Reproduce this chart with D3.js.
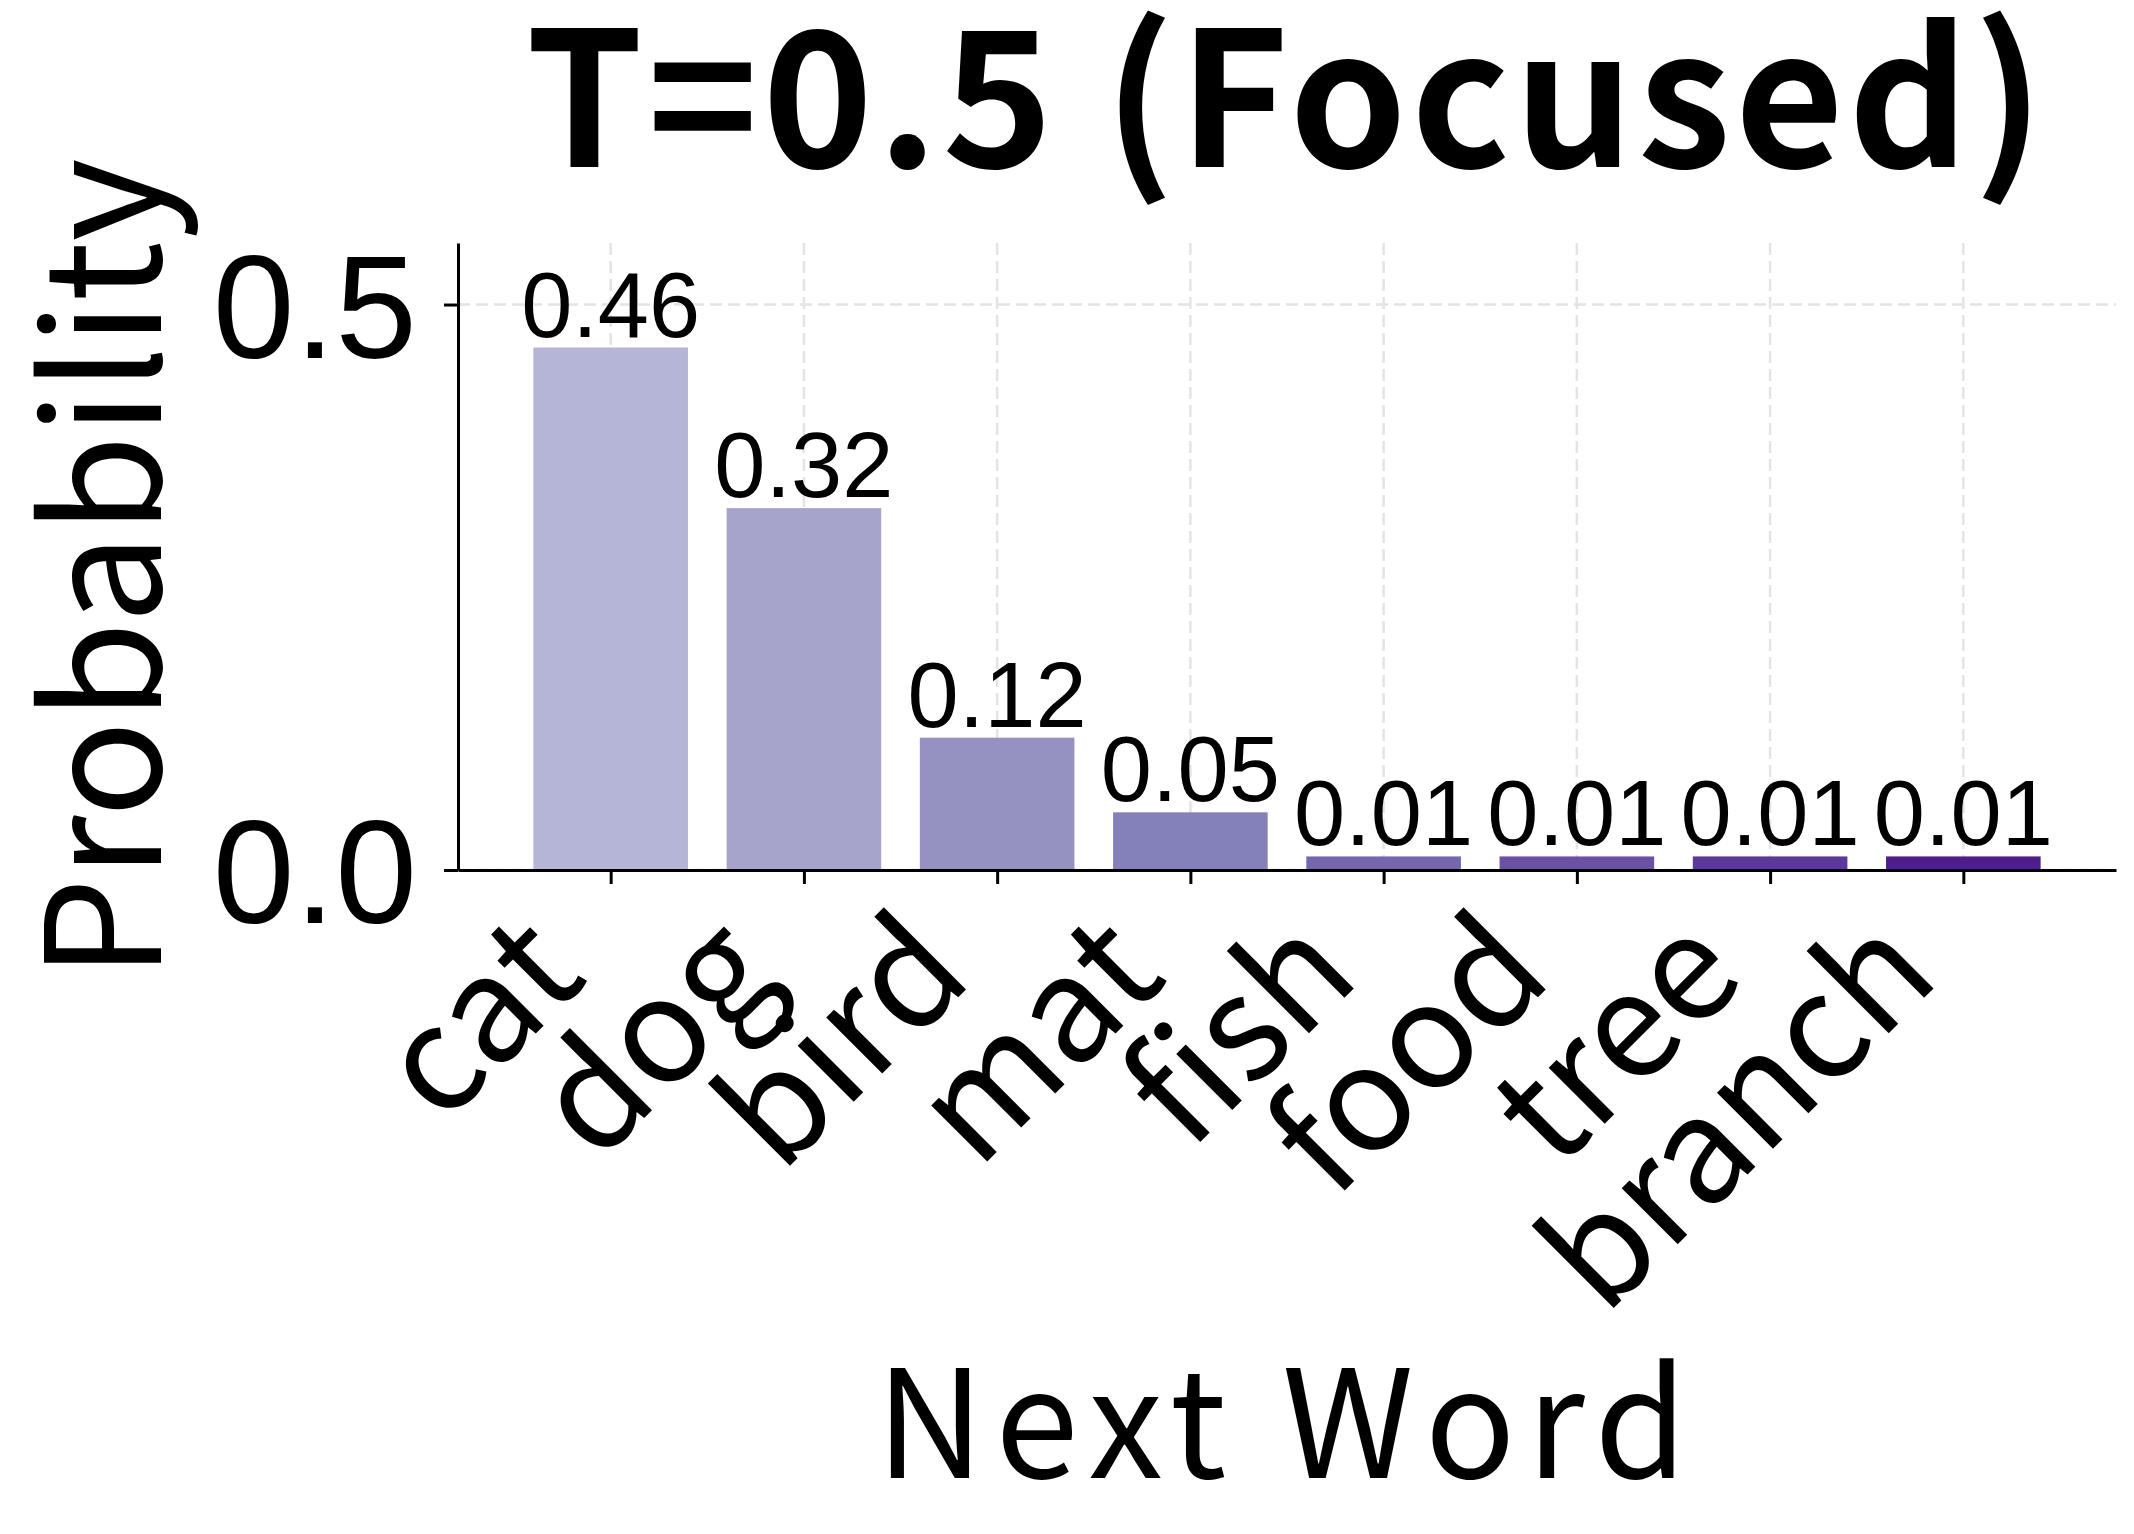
<!DOCTYPE html>
<html>
<head>
<meta charset="utf-8">
<script src="https://cdn.jsdelivr.net/npm/d3@7"></script>
<style>
  body { margin: 0; background: #fff; }
  svg { display: block; }
  text { font-family: "Noto Sans CJK JP", "Noto Sans", sans-serif; fill: #000; }
  .num { font-family: "Liberation Sans", Arial, sans-serif; }
</style>
</head>
<body>
<div id="chart"></div>
<script>
// data
var words = ['cat', 'dog', 'bird', 'mat', 'fish', 'food', 'tree', 'branch'];
var probs = [0.462, 0.320, 0.117, 0.051, 0.012, 0.012, 0.012, 0.012];
var barColors = ['#b5b5d7', '#a6a4cb', '#9592c2', '#8480b9', '#7566ae', '#6a51a3', '#5c3996', '#4e1f89'];
var yTicks = [0.0, 0.5];

var W = 2134, H = 1534;
var margin = {top: 243, right: 18, bottom: 664, left: 458};
var width = W - margin.left - margin.right,
    height = H - margin.top - margin.bottom;

var svg = d3.select('#chart').append('svg')
  .attr('width', W)
  .attr('height', H);

var g = svg.append('g')
  .attr('transform', 'translate(' + margin.left + ',' + margin.top + ')');

//x scale in bar units, same margins as the plot (-0.79 .. 7.79)
var x = d3.scaleLinear().domain([-0.79, words.length - 1 + 0.79]).range([0, width]);
var y = d3.scaleLinear().domain([0, d3.max(probs) * 1.2]).range([height, 0]);
var bw = x(0.4) - x(-0.4);

//grid lines
var grid = g.append('g').attr('class', 'grid');
grid.selectAll('line.gx')
  .data(words)
  .enter().append('line')
  .attr('x1', function(d, i) { return x(i); })
  .attr('x2', function(d, i) { return x(i); })
  .attr('y1', 0).attr('y2', height)
  .attr('stroke', '#e4e4e4').attr('stroke-width', 2.5)
  .attr('stroke-dasharray', '12,6');
grid.selectAll('line.gy')
  .data(yTicks)
  .enter().append('line')
  .attr('x1', 0).attr('x2', width)
  .attr('y1', function(d) { return y(d); })
  .attr('y2', function(d) { return y(d); })
  .attr('stroke', '#e4e4e4').attr('stroke-width', 2.5)
  .attr('stroke-dasharray', '12,6');

//bars
g.selectAll('rect.bar')
  .data(probs)
  .enter().append('rect')
  .attr('class', 'bar')
  .attr('x', function(d, i) { return x(i) - bw / 2; })
  .attr('width', bw)
  .attr('y', function(d) { return y(d); })
  .attr('height', function(d) { return height - y(d); })
  .attr('fill', function(d, i) { return barColors[i]; });

//value labels
g.selectAll('text.val')
  .data(probs)
  .enter().append('text')
  .attr('class', 'val num')
  .attr('x', function(d, i) { return x(i); })
  .attr('y', function(d) { return y(d) - 11; })
  .attr('text-anchor', 'middle')
  .style('font-size', '92px')
  .text(function(d) { return d.toFixed(2); });

//axes
var xAxis = d3.axisBottom(x).tickValues(d3.range(words.length))
  .tickFormat(function(i) { return words[i]; })
  .tickSize(14).tickSizeOuter(0);
var yAxis = d3.axisLeft(y).tickValues(yTicks)
  .tickFormat(d3.format('.1f'))
  .tickSize(14).tickSizeOuter(0);

var gx = g.append('g')
  .attr('transform', 'translate(0,' + height + ')')
  .call(xAxis);
gx.select('.domain').attr('stroke-width', 3);
gx.selectAll('.tick line').attr('stroke-width', 3);
gx.selectAll('.tick text')
  .style('font-size', '146px')
  .attr('text-anchor', 'end')
  .attr('dy', 0)
  .attr('y', 0).attr('x', 0)
  .attr('transform', 'translate(-22,110) rotate(-45)');

var gy = g.append('g').call(yAxis);
gy.select('.domain').attr('stroke-width', 3);
gy.selectAll('.tick line').attr('stroke-width', 3);
gy.selectAll('.tick text')
  .attr('class', 'num')
  .style('font-size', '147px')
  .attr('dy', '0.36em')
  .attr('x', -41);

//title
svg.append('text')
  .attr('x', margin.left + width / 2)
  .attr('y', 167)
  .attr('text-anchor', 'middle')
  .style('font-size', '188px')
  .style('font-weight', 'bold')
  .style('letter-spacing', '4px')
  .text('T=0.5 (Focused)');

//axis labels
svg.append('text')
  .attr('x', margin.left + width / 2)
  .attr('y', 1478)
  .attr('text-anchor', 'middle')
  .style('font-size', '150px')
  .style('letter-spacing', '11px')
  .text('Next Word');

svg.append('text')
  .attr('transform', 'translate(161,' + (margin.top + height / 2 + 12) + ') rotate(-90)')
  .attr('text-anchor', 'middle')
  .style('font-size', '160px')
  .text('Probability');
</script>
</body>
</html>
